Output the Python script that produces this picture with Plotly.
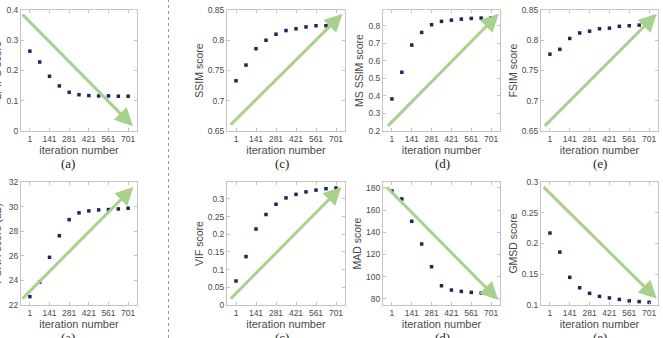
import plotly.graph_objects as go

# ---------------- data ----------------
iterations = [1, 71, 141, 211, 281, 351, 421, 491, 561, 631, 701]
x_tick_vals = [1, 141, 281, 421, 561, 701]
x_title = "iteration number"

lpips_vals = [0.264, 0.228, 0.181, 0.149, 0.128, 0.120, 0.117, 0.116, 0.116, 0.115, 0.115]
ssim_vals = [0.733, 0.759, 0.786, 0.800, 0.810, 0.816, 0.819, 0.822, 0.824, 0.824, 0.825]
msssim_vals = [0.383, 0.535, 0.690, 0.762, 0.806, 0.825, 0.832, 0.838, 0.842, 0.844, 0.846]
fsim_vals = [0.777, 0.785, 0.803, 0.812, 0.815, 0.819, 0.820, 0.823, 0.824, 0.825, 0.825]
psnr_vals = [22.68, 23.86, 25.88, 27.63, 28.94, 29.49, 29.65, 29.73, 29.76, 29.81, 29.87]
vif_vals = [0.068, 0.137, 0.215, 0.256, 0.285, 0.303, 0.313, 0.320, 0.325, 0.329, 0.331]
mad_vals = [177.3, 170.1, 149.9, 129.4, 108.9, 91.7, 87.8, 86.6, 85.7, 85.1, 84.5]
gmsd_vals = [0.217, 0.186, 0.145, 0.128, 0.119, 0.114, 0.1115, 0.109, 0.1066, 0.1055, 0.1044]

y_titles = ["LPIPS score", "SSIM score", "MS SSIM score", "FSIM score",
            "PSNR score (dB)", "VIF score", "MAD score", "GMSD score"]
panel_labels = ["(a)", "(c)", "(d)", "(e)", "(a)", "(c)", "(d)", "(e)"]

lpips_ticks = [0, 0.1, 0.2, 0.3, 0.4]
lpips_ticktext = ["0", "0.1", "0.2", "0.3", "0.4"]
ssim_ticks = [0.65, 0.7, 0.75, 0.8, 0.85]
ssim_ticktext = ["0.65", "0.7", "0.75", "0.8", "0.85"]
msssim_ticks = [0.2, 0.3, 0.4, 0.5, 0.6, 0.7, 0.8]
msssim_ticktext = ["0.2", "0.3", "0.4", "0.5", "0.6", "0.7", "0.8"]
fsim_ticks = ssim_ticks
fsim_ticktext = ssim_ticktext
psnr_ticks = [22, 24, 26, 28, 30, 32]
psnr_ticktext = ["22", "24", "26", "28", "30", "32"]
vif_ticks = [0, 0.05, 0.1, 0.15, 0.2, 0.25, 0.3]
vif_ticktext = ["0", "0.05", "0.1", "0.15", "0.2", "0.25", "0.3"]
mad_ticks = [80, 100, 120, 140, 160, 180]
mad_ticktext = ["80", "100", "120", "140", "160", "180"]
gmsd_ticks = [0.1, 0.15, 0.2, 0.25, 0.3]
gmsd_ticktext = ["0.1", "0.15", "0.2", "0.25", "0.3"]

y_ranges = [[0, 0.4], [0.65, 0.85], [0.2, 0.89], [0.65, 0.85],
            [22, 32], [0, 0.348], [74.3, 185.4], [0.1, 0.3]]

series = [lpips_vals, ssim_vals, msssim_vals, fsim_vals,
          psnr_vals, vif_vals, mad_vals, gmsd_vals]
tick_vals = [lpips_ticks, ssim_ticks, msssim_ticks, fsim_ticks,
             psnr_ticks, vif_ticks, mad_ticks, gmsd_ticks]
tick_texts = [lpips_ticktext, ssim_ticktext, msssim_ticktext, fsim_ticktext,
              psnr_ticktext, vif_ticktext, mad_ticktext, gmsd_ticktext]

# ---------------- layout / style ----------------
W, H = 663, 338
col_px = [(21, 137), (227, 345), (383, 500), (541, 658)]
row_px = [(10, 131), (182, 305)]
x_range = [-62, 764]

# arrows: (tail_x, tail_y, head_x, head_y) in axis-domain fractions
arrows = [
    (0.0, 0.975, 0.965, 0.04),
    (0.02, 0.04, 0.98, 0.97),
    (0.03, 0.03, 0.99, 0.97),
    (0.02, 0.03, 0.99, 0.97),
    (0.0, 0.04, 0.97, 0.96),
    (0.02, 0.04, 0.97, 0.96),
    (0.02, 0.97, 0.985, 0.04),
    (0.01, 0.97, 0.99, 0.05),
]
label_x_px = [68, 282, 442, 600, 68, 282, 442, 600]
label_y_px = [163, 163, 163, 163, 337, 337, 337, 337]
left_title_right_px = 4

marker_color = "#1c2658"
arrow_color = "#a9d18e"
axis_color = "#c4c4c4"
text_color = "#4a4a4a"
font_family = "Liberation Sans, Arial, sans-serif"

fig = go.Figure()
annotations = []

for i in range(8):
    r, c = divmod(i, 4)
    n = i + 1
    xa = "x" if n == 1 else f"x{n}"
    ya = "y" if n == 1 else f"y{n}"
    fig.add_trace(go.Scatter(
        x=iterations, y=series[i], mode="markers",
        marker=dict(symbol="square", size=3.5, color=marker_color),
        xaxis=xa, yaxis=ya, showlegend=False, hoverinfo="skip"))

    x0, x1 = col_px[c]
    ytop, ybot = row_px[r]
    xdom = [x0 / W, x1 / W]
    ydom = [1 - ybot / H, 1 - ytop / H]
    axis_common = dict(showline=True, linecolor=axis_color, linewidth=1,
                       mirror="ticks", ticks="inside", ticklen=3,
                       tickcolor=axis_color, showgrid=False, zeroline=False,
                       automargin=False,
                       tickfont=dict(family=font_family, size=8.5, color=text_color))
    fig.layout[("xaxis" if n == 1 else f"xaxis{n}")] = dict(
        domain=xdom, anchor=ya, range=x_range, tickmode="array",
        tickvals=x_tick_vals, ticktext=[str(v) for v in x_tick_vals],
        title=dict(text=x_title, standoff=3,
                   font=dict(family=font_family, size=11, color=text_color)),
        **axis_common)
    ytitle_font = dict(family=font_family, size=10.5, color=text_color)
    if c == 0:
        ytitle = dict(text="")
        annotations.append(dict(
            xref="paper", yref="paper", x=left_title_right_px / W,
            y=(ydom[0] + ydom[1]) / 2, xanchor="right", yanchor="middle",
            textangle=-90, text=y_titles[i], showarrow=False, font=ytitle_font))
    else:
        ytitle = dict(text=y_titles[i], standoff=2, font=ytitle_font)
    fig.layout[("yaxis" if n == 1 else f"yaxis{n}")] = dict(
        domain=ydom, anchor=xa, range=y_ranges[i], tickmode="array",
        tickvals=tick_vals[i], ticktext=tick_texts[i], title=ytitle,
        **axis_common)

    tx, ty, hx, hy = arrows[i]
    annotations.append(dict(
        xref=f"{xa} domain", yref=f"{ya} domain",
        axref=f"{xa} domain", ayref=f"{ya} domain",
        x=hx, y=hy, ax=tx, ay=ty, text="", showarrow=True,
        arrowhead=2, arrowsize=1.2, arrowwidth=3, arrowcolor=arrow_color,
        standoff=0, startstandoff=0))
    annotations.append(dict(
        xref="paper", yref="paper", x=label_x_px[i] / W, y=1 - label_y_px[i] / H,
        xanchor="center", yanchor="middle", text=panel_labels[i], showarrow=False,
        font=dict(family="Liberation Serif, Times New Roman, serif", size=13, color="#222222")))

fig.update_layout(
    width=W, height=H,
    margin=dict(l=0, r=0, t=0, b=0, pad=0, autoexpand=False),
    paper_bgcolor="white", plot_bgcolor="white",
    annotations=annotations,
    shapes=[dict(type="line", xref="paper", yref="paper", x0=168.5 / W, x1=168.5 / W,
                 y0=0, y1=1, line=dict(color="#9a9a9a", width=1, dash="dot"))],
)

fig.write_html("out.html")
